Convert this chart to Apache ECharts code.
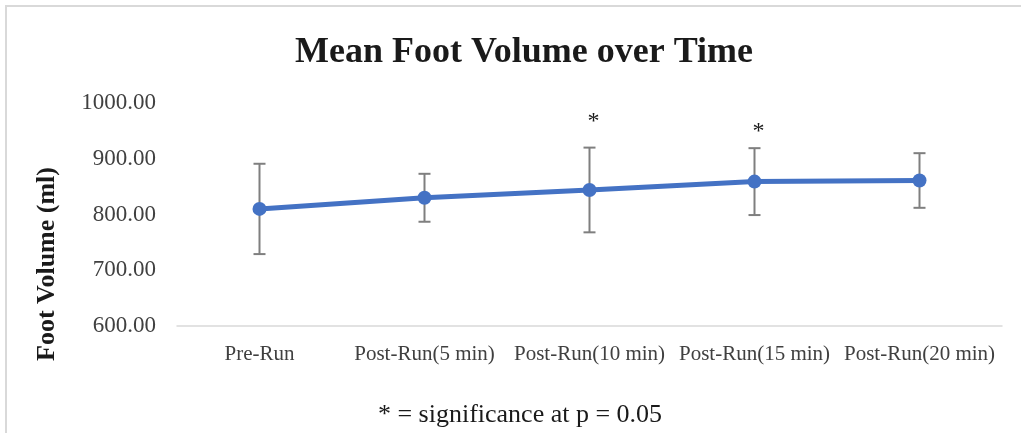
<!DOCTYPE html>
<html>
<head>
<meta charset="utf-8">
<script src="https://cdn.jsdelivr.net/npm/echarts@6/dist/echarts.min.js"></script>
<style>
html,body{margin:0;padding:0;background:#fff;}
#chart{width:1021px;height:433px;}
</style>
</head>
<body>
<div id="chart"></div>
<script>
const categories = ['Pre-Run', 'Post-Run(5 min)', 'Post-Run(10 min)', 'Post-Run(15 min)', 'Post-Run(20 min)'];
const meanVolume = [810, 830, 844, 859, 861];
const errorSize = [81, 43, 76, 60, 49];
// value at which the significance asterisk sits (null = not significant)
const significanceMark = [null, null, 974, 956, null];
const yTicks = [600, 700, 800, 900, 1000];

const FONT = '"Liberation Serif", "Times New Roman", serif';
const chart = echarts.init(document.getElementById('chart'));

const errData = categories.map((c, i) => [i, meanVolume[i] - errorSize[i], meanVolume[i] + errorSize[i]]);
const sigData = significanceMark.map((v, i) => v == null ? null : [i, v]).filter(d => d);

chart.setOption({
  animation: false,
  backgroundColor: '#ffffff',
  title: {
    text: 'Mean Foot Volume over Time',
    left: 519, top: 30, textAlign: 'center',
    textStyle: { fontFamily: FONT, fontWeight: 'bold', fontSize: 36, color: '#1a1a1a' }
  },
  grid: { left: 177, right: 19, top: 103, bottom: 107 },
  xAxis: {
    type: 'category',
    data: categories,
    axisLine: { lineStyle: { color: '#d9d9d9', width: 1.5 } },
    axisTick: { show: false },
    axisLabel: { interval: 0, fontFamily: FONT, fontSize: 21, color: '#404040', margin: 18 }
  },
  yAxis: {
    type: 'value',
    min: yTicks[0], max: yTicks[yTicks.length - 1], interval: 100,
    axisLine: { show: false },
    axisTick: { show: false },
    splitLine: { show: false },
    axisLabel: { fontFamily: FONT, fontSize: 23, color: '#404040', margin: 21, formatter: v => v.toFixed(2) }
  },
  graphic: [
    { type: 'line', shape: { x1: 5, y1: 6, x2: 1021, y2: 6 }, style: { stroke: '#d9d9d9', lineWidth: 2 } },
    { type: 'line', shape: { x1: 6, y1: 6, x2: 6, y2: 433 }, style: { stroke: '#d9d9d9', lineWidth: 2 } },
    { type: 'text', x: 47, y: 264, rotation: Math.PI / 2,
      style: { text: 'Foot Volume (ml)', fontFamily: FONT, fontWeight: 'bold', fontSize: 26, fill: '#1a1a1a', align: 'center', verticalAlign: 'middle' } },
    { type: 'text', x: 520, y: 415,
      style: { text: '* = significance at p = 0.05', fontFamily: FONT, fontSize: 26, fill: '#1a1a1a', align: 'center', verticalAlign: 'middle' } }
  ],
  series: [
    {
      type: 'custom',
      z: 1,
      data: errData,
      renderItem: function (params, api) {
        const x = api.value(0);
        const lo = api.coord([x, api.value(1)]);
        const hi = api.coord([x, api.value(2)]);
        const cap = 6;
        const st = { stroke: '#7f7f7f', lineWidth: 2 };
        return { type: 'group', children: [
          { type: 'line', shape: { x1: hi[0], y1: hi[1], x2: lo[0], y2: lo[1] }, style: st },
          { type: 'line', shape: { x1: hi[0] - cap, y1: hi[1], x2: hi[0] + cap, y2: hi[1] }, style: st },
          { type: 'line', shape: { x1: lo[0] - cap, y1: lo[1], x2: lo[0] + cap, y2: lo[1] }, style: st }
        ] };
      }
    },
    {
      type: 'custom',
      z: 3,
      data: sigData,
      renderItem: function (params, api) {
        const p = api.coord([api.value(0), api.value(1)]);
        return { type: 'text', style: { x: p[0] + 4, y: p[1] + 4, text: '*', fontFamily: FONT, fontSize: 24, fill: '#1a1a1a', align: 'center', verticalAlign: 'middle' } };
      }
    },
    {
      type: 'line',
      z: 2,
      data: meanVolume,
      symbol: 'circle',
      symbolSize: 14,
      lineStyle: { color: '#4472c4', width: 5 },
      itemStyle: { color: '#4472c4' }
    }
  ]
});
</script>
</body>
</html>
